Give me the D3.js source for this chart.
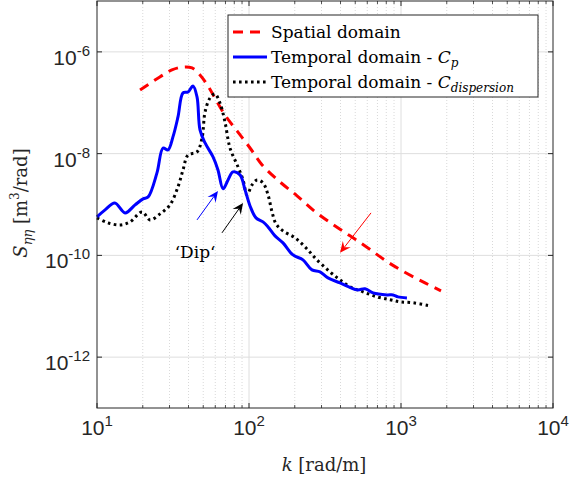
<!DOCTYPE html>
<html lang="en">
<head>
<meta charset="UTF-8">
<title>Spectrum</title>
<style>body{margin:0;background:#fff}</style>
</head>
<body>
<svg width="571" height="483"></svg>
<script src="https://d3js.org/d3.v7.min.js"></script>
<script>
// spatial domain spectrum
var spatialK = [19.2, 25.9, 31.1, 36.8, 42.2, 47.6, 53.7, 59.7, 69.5, 83.4, 101.6, 122, 157, 207, 268, 352, 462, 606, 796, 1047, 1439, 1833];
var spatialS = [1.78e-7, 3.21e-7, 4.41e-7, 5.04e-7, 4.83e-7, 3.52e-7, 2.14e-7, 1.24e-7, 5.75e-8, 2.79e-8, 1.29e-8, 6.0e-9, 2.91e-9, 1.48e-9, 7.5e-10, 4.16e-10, 2.42e-10, 1.40e-10, 7.8e-11, 4.74e-11, 2.88e-11, 2.01e-11];

// temporal domain, Cp
var cpK = [10.0, 11.3, 13.1, 15.3, 17.8, 20.1, 21.7, 24.8, 27.2, 29.3, 31.6, 34.1, 36.8, 39.7, 42.8, 45.5, 47.6, 51.4, 58.0, 62.5, 67.5, 72.8, 78.5, 87.3, 94.2, 101.6, 111.2, 123.6, 133.4, 148.3, 167.4, 194.7, 226.5, 259.5, 293, 331, 397, 514, 580, 655, 809, 886, 955, 1094];
var cpS = [5.70e-10, 7.83e-10, 1.07e-9, 6.84e-10, 9.82e-10, 1.29e-9, 1.41e-9, 4.18e-9, 1.29e-8, 1.18e-8, 2.13e-8, 5.26e-8, 1.56e-7, 1.63e-7, 2.14e-7, 1.30e-7, 2.92e-8, 1.62e-8, 8.61e-9, 4.78e-9, 2.03e-9, 3.04e-9, 4.37e-9, 3.82e-9, 1.94e-9, 9.37e-10, 5.46e-10, 4.55e-10, 3.63e-10, 2.42e-10, 1.76e-10, 1.02e-10, 8.16e-11, 5.19e-11, 4.74e-11, 3.61e-11, 2.88e-11, 2.10e-11, 2.20e-11, 1.83e-11, 1.67e-11, 1.67e-11, 1.53e-11, 1.46e-11];

// temporal domain, C dispersion
var dispK = [10.0, 11.8, 14.2, 16.5, 19.8, 22.3, 26.0, 30.2, 34.1, 36.8, 39.7, 45.5, 49.1, 51.4, 55.4, 59.7, 64.4, 69.5, 75.0, 84.7, 91.4, 97.1, 104.7, 113.0, 123.6, 133.4, 141.7, 150.6, 167.4, 200.8, 237.3, 280, 341, 397, 462, 562, 695, 847, 985, 1199, 1552];
var dispS = [5.46e-10, 4.35e-10, 3.97e-10, 4.55e-10, 7.16e-10, 4.98e-10, 6.53e-10, 9.82e-10, 2.22e-9, 4.78e-9, 9.42e-9, 1.08e-8, 2.03e-8, 6.59e-8, 1.24e-7, 1.49e-7, 9.9e-8, 4.20e-8, 1.29e-8, 5.48e-9, 3.04e-9, 1.55e-9, 2.43e-9, 3.04e-9, 2.66e-9, 1.55e-9, 7.16e-10, 4.16e-10, 3.03e-10, 2.21e-10, 1.40e-10, 8.16e-11, 4.74e-11, 3.30e-11, 2.41e-11, 1.92e-11, 1.53e-11, 1.34e-11, 1.22e-11, 1.17e-11, 1.02e-11];

var xTicks = [10, 100, 1000, 10000];
var yTicks = [1e-12, 1e-10, 1e-8, 1e-6];

// annotation arrows [tailK, tailS, headK, headS]
var arrowBlue = [45.5, 4.98e-10, 62.5, 1.85e-9];
var arrowBlack = [66.4, 2.77e-10, 91.4, 1.07e-9];
var arrowRed = [635, 6.84e-10, 397, 1.12e-10];
var dipPos = [44.2, 8.9e-11];

var svg = d3.select("svg");
var pL = 97, pR = 553, pT = 1, pB = 408;
var axColor = "#262626";

var x = d3.scaleLog().domain([10, 1e4]).range([pL, pR]);
var y = d3.scaleLog().domain([1e-13, 1e-5]).range([pB, pT]);

// grid
var minor = [];
[10, 100, 1000].forEach(function(d){
    for (var m = 2; m <= 9; m++) minor.push(d * m);
});
var grid = svg.append("g");
grid.selectAll(".mg").data(minor).enter().append("line")
    .attr("x1", function(d){ return x(d); }).attr("x2", function(d){ return x(d); })
    .attr("y1", pT).attr("y2", pB)
    .attr("stroke", "#cfcfcf").attr("stroke-width", 0.8).attr("stroke-dasharray", "1,2");
grid.selectAll(".xg").data([100, 1000]).enter().append("line")
    .attr("x1", function(d){ return x(d); }).attr("x2", function(d){ return x(d); })
    .attr("y1", pT).attr("y2", pB)
    .attr("stroke", "#dedede").attr("stroke-width", 1);
grid.selectAll(".yg").data(yTicks).enter().append("line")
    .attr("x1", pL).attr("x2", pR)
    .attr("y1", function(d){ return y(d); }).attr("y2", function(d){ return y(d); })
    .attr("stroke", "#dedede").attr("stroke-width", 1);

// curves
function series(ks, ss){ return ks.map(function(k, i){ return [k, ss[i]]; }); }
var line = d3.line()
    .x(function(d){ return x(d[0]); })
    .y(function(d){ return y(d[1]); })
    .curve(d3.curveCatmullRom.alpha(0.5));

svg.append("path").attr("d", line(series(spatialK, spatialS)))
    .attr("fill", "none").attr("stroke", "#ff0000").attr("stroke-width", 3)
    .attr("stroke-dasharray", "10,7");
svg.append("path").attr("d", line(series(dispK, dispS)))
    .attr("fill", "none").attr("stroke", "#000").attr("stroke-width", 3)
    .attr("stroke-dasharray", "2.6,3.4");
svg.append("path").attr("d", line(series(cpK, cpS)))
    .attr("fill", "none").attr("stroke", "#0000ff").attr("stroke-width", 3);

// axes box and ticks
var ax = svg.append("g");
ax.append("rect").attr("x", pL).attr("y", pT)
    .attr("width", pR - pL).attr("height", pB - pT)
    .attr("fill", "none").attr("stroke", axColor).attr("stroke-width", 1);
ax.selectAll(".mt").data(minor).enter().append("path")
    .attr("d", function(d){
        var px = x(d);
        return "M" + px + "," + pB + "V" + (pB - 3) + "M" + px + "," + pT + "V" + (pT + 3);
    })
    .attr("stroke", axColor).attr("stroke-width", 0.8);
ax.selectAll(".xt").data(xTicks).enter().append("path")
    .attr("d", function(d){
        var px = x(d);
        return "M" + px + "," + pB + "V" + (pB - 5) + "M" + px + "," + pT + "V" + (pT + 5);
    })
    .attr("stroke", axColor).attr("stroke-width", 1);
ax.selectAll(".yt").data(yTicks).enter().append("path")
    .attr("d", function(d){
        var py = y(d);
        return "M" + pL + "," + py + "H" + (pL + 5) + "M" + pR + "," + py + "H" + (pR - 5);
    })
    .attr("stroke", axColor).attr("stroke-width", 1);

// tick labels
function expText(sel, d){
    sel.append("tspan").text("10");
    sel.append("tspan").attr("font-size", 15).attr("dy", -9)
        .text(String(Math.round(Math.log10(d))));
}
ax.selectAll(".xl").data(xTicks).enter().append("text")
    .attr("x", function(d){ return x(d); }).attr("y", 435)
    .attr("text-anchor", "middle")
    .attr("font-family", "Liberation Sans, Arial, sans-serif").attr("font-size", 21)
    .attr("fill", axColor)
    .each(function(d){ expText(d3.select(this), d); });
ax.selectAll(".yl").data(yTicks).enter().append("text")
    .attr("x", 90).attr("y", function(d){ return y(d) + 13; })
    .attr("text-anchor", "end")
    .attr("font-family", "Liberation Sans, Arial, sans-serif").attr("font-size", 21)
    .attr("fill", axColor)
    .each(function(d){ expText(d3.select(this), d); });

// axis labels
var serif = "DejaVu Serif, serif";
var xl = svg.append("text").attr("x", 324).attr("y", 471)
    .attr("text-anchor", "middle").attr("font-family", serif).attr("font-size", 18)
    .attr("fill", axColor);
xl.append("tspan").attr("font-style", "italic").text("k");
xl.append("tspan").text(" [rad/m]");

var yl = svg.append("text")
    .attr("transform", "translate(27,203) rotate(-90)")
    .attr("text-anchor", "middle").attr("font-family", serif).attr("font-size", 18)
    .attr("fill", axColor);
yl.append("tspan").attr("font-style", "italic").text("S");
yl.append("tspan").attr("font-style", "italic").attr("font-size", 13).attr("dy", 5).text("ηη");
yl.append("tspan").attr("dy", -5).text(" [m");
yl.append("tspan").attr("font-size", 12).attr("dy", -8).text("3");
yl.append("tspan").attr("dy", 8).text("/rad]");

// annotations
function arrow(a, color){
    var x0 = x(a[0]), y0 = y(a[1]), x1 = x(a[2]), y1 = y(a[3]);
    var ang = Math.atan2(y1 - y0, x1 - x0);
    var L = 11, W = 5, N = 7;
    var cx = Math.cos(ang), sy = Math.sin(ang);
    var bx = x1 - L * cx, by = y1 - L * sy;
    var nx = x1 - N * cx, ny = y1 - N * sy;
    svg.append("line").attr("x1", x0).attr("y1", y0).attr("x2", nx).attr("y2", ny)
        .attr("stroke", color).attr("stroke-width", 1);
    svg.append("path")
        .attr("d", "M" + x1 + "," + y1 +
            "L" + (bx - W * sy) + "," + (by + W * cx) +
            "L" + nx + "," + ny +
            "L" + (bx + W * sy) + "," + (by - W * cx) + "Z")
        .attr("fill", color);
}
arrow(arrowBlue, "#0000ff");
arrow(arrowBlack, "#000");
arrow(arrowRed, "#ff0000");

svg.append("text").attr("x", x(dipPos[0])).attr("y", y(dipPos[1]))
    .attr("text-anchor", "middle").attr("font-family", serif).attr("font-size", 17)
    .attr("fill", "#000").text("\u2018Dip\u2018");

// legend
var lg = svg.append("g");
lg.append("rect").attr("x", 228).attr("y", 15).attr("width", 310).attr("height", 82)
    .attr("fill", "#fff").attr("stroke", axColor).attr("stroke-width", 1);
var items = [
    {color: "#ff0000", dash: "10,7", main: "Spatial domain", sub: null},
    {color: "#0000ff", dash: null, main: "Temporal domain - ", sub: "p"},
    {color: "#000", dash: "2.6,3.4", main: "Temporal domain - ", sub: "dispersion"}
];
items.forEach(function(it, i){
    var cy = 32 + i * 25;
    lg.append("line").attr("x1", 233).attr("x2", 267).attr("y1", cy).attr("y2", cy)
        .attr("stroke", it.color).attr("stroke-width", 3)
        .attr("stroke-dasharray", it.dash);
    var t = lg.append("text").attr("x", 271).attr("y", cy + 6)
        .attr("font-family", serif).attr("font-size", 17).attr("fill", "#000");
    t.append("tspan").text(it.main);
    if (it.sub) {
        t.append("tspan").attr("font-style", "italic").text("C");
        t.append("tspan").attr("font-style", "italic").attr("font-size", 12).attr("dy", 4).text(it.sub);
    }
});
</script>
</body>
</html>
